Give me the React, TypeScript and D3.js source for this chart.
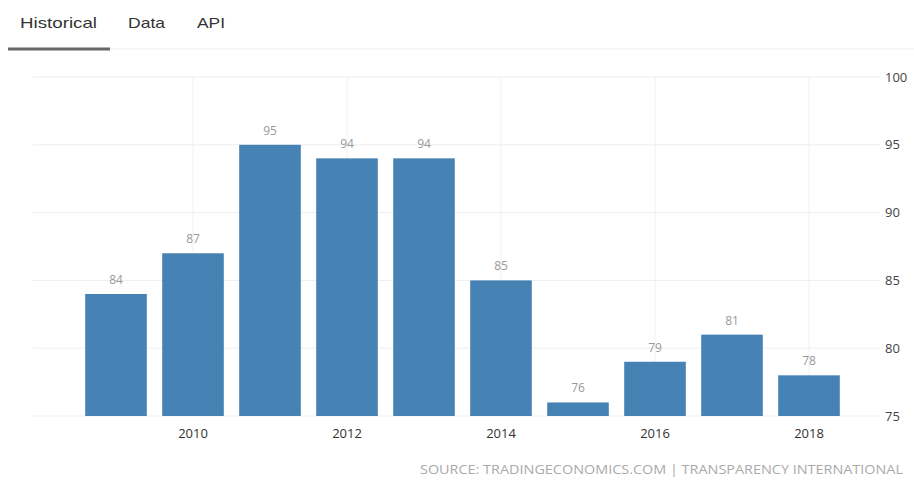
import React from "react";
import * as d3 from "d3";

const years = [2009, 2010, 2011, 2012, 2013, 2014, 2015, 2016, 2017, 2018];
const values = [84, 87, 95, 94, 94, 85, 76, 79, 81, 78];
const yTicks = [75, 80, 85, 90, 95, 100];
const xTickYears = [2010, 2012, 2014, 2016, 2018];
const tabs = ["Historical", "Data", "API"];
const tabX = [20, 128, 197];
const tabW = [77, 37, 28];
const sourceText = "SOURCE: TRADINGECONOMICS.COM | TRANSPARENCY INTERNATIONAL";

export default function App() {
  const W = 914, H = 481;
  const x = d3.scaleBand<number>().domain(years).range([77.5, 847.5]).paddingInner(0.2).paddingOuter(0.1);
  const y = d3.scaleLinear().domain([75, 100]).range([416, 77]);
  const font = "'Open Sans', 'Liberation Sans', Arial, sans-serif";
  return (
    <svg width={W} height={H} style={{ position: "absolute", left: 0, top: 0, background: "#fff" }} fontFamily={font}>
      {tabs.map((t, i) => (
        <text key={t} x={tabX[i]} y={28} fontSize={15} fill="#333" textLength={tabW[i]} lengthAdjust="spacingAndGlyphs" fontFamily="'Liberation Sans', Arial, sans-serif">{t}</text>
      ))}
      <line x1={8} x2={914} y1={49} y2={49} stroke="#eee" strokeWidth={1} />
      <line x1={8} x2={110} y1={49} y2={49} stroke="#666" strokeWidth={3} />
      {yTicks.map(t => (
        <line key={"g" + t} x1={33} x2={880} y1={y(t)} y2={y(t)} stroke="#eee" strokeWidth={1} />
      ))}
      {xTickYears.map(yr => (
        <line key={"v" + yr} x1={x(yr)! + x.bandwidth() / 2} x2={x(yr)! + x.bandwidth() / 2} y1={y(100)} y2={y(75)} stroke="#f0f0f0" strokeWidth={1} />
      ))}
      {years.map((yr, i) => (
        <rect key={yr} x={x(yr)} y={y(values[i])} width={x.bandwidth()} height={y(75) - y(values[i])} fill="#4682b4" />
      ))}
      {years.map((yr, i) => (
        <text key={"l" + yr} x={x(yr)! + x.bandwidth() / 2} y={y(values[i]) - 10} textAnchor="middle" fontSize={12} fill="#999">{values[i]}</text>
      ))}
      {xTickYears.map(yr => (
        <text key={"x" + yr} x={x(yr)! + x.bandwidth() / 2} y={438} textAnchor="middle" fontSize={13} fill="#333">{yr}</text>
      ))}
      {yTicks.map(t => (
        <text key={"y" + t} x={885} y={y(t)} dy="0.35em" fontSize={13} fill="#444">{t}</text>
      ))}
      <text x={903} y={474} textAnchor="end" fontSize={12} fill="#aaa" textLength={483} lengthAdjust="spacingAndGlyphs">{sourceText}</text>
    </svg>
  );
}
